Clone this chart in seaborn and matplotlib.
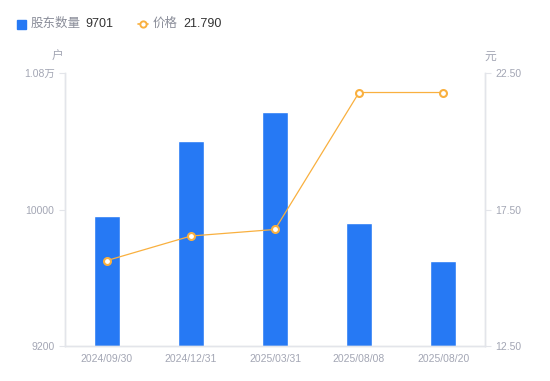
import matplotlib
matplotlib.use("Agg")
import matplotlib.pyplot as plt
import numpy as np
import seaborn as sns
from matplotlib.lines import Line2D
from matplotlib.patches import Rectangle

# data
dates = ["2024/09/30", "2024/12/31", "2025/03/31", "2025/08/08", "2025/08/20"]
holders = [9960, 10400, 10572, 9920, 9701]
price = [15.63, 16.53, 16.77, 21.79, 21.79]
left_ticks = [9200, 10000, 10800]
left_labels = ["9200", "10000", "1.08万"]
right_ticks = [12.5, 17.5, 22.5]

BLUE = "#2679F4"
ORANGE = "#F9B03F"
GREY = "#A3A6B4"
AXIS = "#E3E5EA"

sns.set_style("white")
plt.rcParams["font.family"] = ["Liberation Sans", "Noto Sans CJK SC", "DejaVu Sans"]

fig = plt.figure(figsize=(5.5, 3.81), dpi=100)
ax = fig.add_axes([0.118, 0.092, 0.764, 0.716])

sns.barplot(x=dates, y=holders, color=BLUE, width=0.3, ax=ax, saturation=1)
ax.set_ylim(9200, 10800)
ax.set_xlim(-0.5, len(dates) - 0.5)
ax.set_yticks(left_ticks)
ax.set_yticklabels(left_labels)

ax2 = ax.twinx()
xpos = np.arange(len(dates))
sns.lineplot(x=xpos, y=price, color=ORANGE, linewidth=0.9, marker="o",
             markersize=5, markerfacecolor="white", markeredgecolor=ORANGE,
             markeredgewidth=1.5, ax=ax2)
ax2.set_ylim(12.5, 22.5)
ax2.set_yticks(right_ticks)
ax2.set_yticklabels([f"{t:.2f}" for t in right_ticks])
ax2.set_xlim(-0.5, len(dates) - 0.5)

for a in (ax, ax2):
    a.set_xlabel("")
    a.set_ylabel("")
    for s in a.spines.values():
        s.set_color(AXIS)
        s.set_linewidth(1)
    a.spines["top"].set_visible(False)
    a.tick_params(colors=GREY, labelsize=7.5, length=4, width=0.8, labelcolor=GREY)
ax.tick_params(axis="y", color=AXIS)
ax2.tick_params(axis="y", color=AXIS)
ax.tick_params(axis="x", length=0, pad=6)

fig.text(58 / 550, 1 - 57 / 381, "户", color=GREY, fontsize=8.5, ha="center", va="center")
fig.text(490 / 550, 1 - 57 / 381, "元", color=GREY, fontsize=8.5, ha="center", va="center")

# legend row
fig.patches.append(Rectangle((17 / 550, 1 - 29 / 381), 9 / 550, 9 / 381,
                             transform=fig.transFigure, color=BLUE))
fig.text(31 / 550, 1 - 24 / 381, "股东数量", color="#8A8D99", fontsize=9, va="center")
fig.text(85 / 550, 1 - 24 / 381, "9701", color="#333333", fontsize=9, va="center")
fig.lines.append(Line2D([138 / 550, 148 / 550], [1 - 24 / 381, 1 - 24 / 381],
                        transform=fig.transFigure, color=ORANGE, linewidth=1.2))
fig.lines.append(Line2D([143 / 550], [1 - 24 / 381], transform=fig.transFigure,
                        color=ORANGE, marker="o", markersize=4.5,
                        markerfacecolor="white", markeredgewidth=1.4))
fig.text(153 / 550, 1 - 24 / 381, "价格", color="#8A8D99", fontsize=9, va="center")
fig.text(183 / 550, 1 - 24 / 381, "21.790", color="#333333", fontsize=9, va="center")

fig.savefig("out.png", dpi=100)
